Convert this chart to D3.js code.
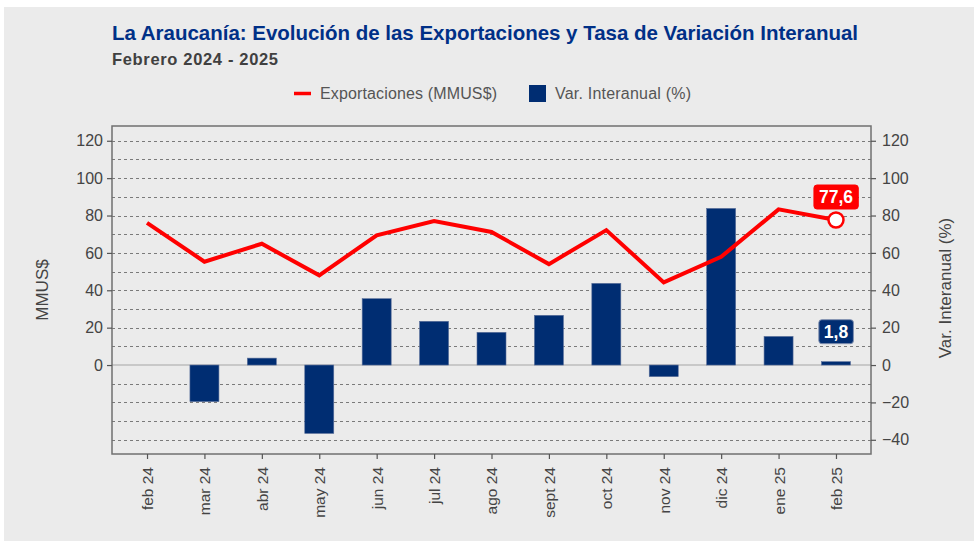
<!DOCTYPE html>
<html>
<head>
<meta charset="utf-8">
<script src="https://cdn.jsdelivr.net/npm/d3@7"></script>
<style>
  html, body { margin: 0; padding: 0; background: #ffffff; }
  svg { display: block; font-family: "Liberation Sans", Arial, sans-serif; }
</style>
</head>
<body>
<svg id="chart" width="974" height="541"></svg>
<script>
const categories = ["feb 24","mar 24","abr 24","may 24","jun 24","jul 24","ago 24","sept 24","oct 24","nov 24","dic 24","ene 25","feb 25"];
const exportaciones = [76.1, 55.3, 64.9, 48.0, 69.4, 77.0, 71.2, 54.0, 72.2, 44.2, 57.9, 83.3, 77.6];
const varInteranual = [0, -19.6, 3.7, -36.6, 35.5, 23.4, 17.5, 26.6, 43.7, -6.2, 83.8, 15.3, 1.8];
const leftTicks = [0, 20, 40, 60, 80, 100, 120];
const rightTicks = [-40, -20, 0, 20, 40, 60, 80, 100, 120];
const gridValues = [-40, -30, -20, -10, 10, 20, 30, 40, 50, 60, 70, 80, 90, 100, 110, 120];
const title = "La Araucanía: Evolución de las Exportaciones y Tasa de Variación Interanual";
const subtitle = "Febrero 2024 - 2025";
const legendLabels = ["Exportaciones (MMUS$)", "Var. Interanual (%)"];
const fmt = v => d3.format(".1f")(v).replace(".", ",");

const svg = d3.select("#chart");
const W = 974, H = 541;
const plot = {left: 112, right: 871, top: 126, bottom: 454};

svg.append("rect").attr("x", 4).attr("y", 7).attr("width", W - 4).attr("height", H - 7).attr("fill", "#ebebeb");

const x = d3.scalePoint().domain(categories).range([plot.left, plot.right]).padding(0.61);
const yL = d3.scaleLinear().domain([-47.6, 127.9]).range([plot.bottom, plot.top]);
const yR = d3.scaleLinear().domain([-47.6, 127.9]).range([plot.bottom, plot.top]);

// Title
svg.append("text").attr("x", 112).attr("y", 40).attr("fill", "#003087")
  .attr("font-size", 20.5).attr("font-weight", "bold").attr("textLength", 746).text(title);
svg.append("text").attr("x", 112).attr("y", 65).attr("fill", "#404040")
  .attr("font-size", 16.5).attr("font-weight", "bold").attr("textLength", 166).text(subtitle);

// Legend
const lg = svg.append("g");
lg.append("line").attr("x1", 294).attr("x2", 311).attr("y1", 93.5).attr("y2", 93.5)
  .attr("stroke", "#ff0000").attr("stroke-width", 3.5);
lg.append("text").attr("x", 320).attr("y", 99).attr("font-size", 16).attr("fill", "#555")
  .attr("textLength", 177).text(legendLabels[0]);
lg.append("rect").attr("x", 529).attr("y", 85).attr("width", 17).attr("height", 17).attr("fill", "#002d72");
lg.append("text").attr("x", 555).attr("y", 99).attr("font-size", 16).attr("fill", "#555")
  .attr("textLength", 136).text(legendLabels[1]);

// Gridlines
svg.append("g").selectAll("line").data(gridValues).join("line")
  .attr("x1", plot.left).attr("x2", plot.right)
  .attr("y1", d => Math.round(yL(d)) + 0.5).attr("y2", d => Math.round(yL(d)) + 0.5)
  .attr("stroke", "#7a7a7a").attr("stroke-width", 1).attr("stroke-dasharray", "3,3");

// zero line
svg.append("line").attr("x1", plot.left).attr("x2", plot.right)
  .attr("y1", yL(0)).attr("y2", yL(0)).attr("stroke", "#bdbdbd").attr("stroke-width", 1.5);

// Bars
const bw = 29;
svg.append("g").selectAll("rect").data(varInteranual).join("rect")
  .attr("x", (d, i) => x(categories[i]) - bw / 2)
  .attr("width", bw)
  .attr("y", d => yR(Math.max(0, d)))
  .attr("height", d => Math.abs(yR(d) - yR(0)))
  .attr("fill", "#002d72")
  .attr("stroke", d => d === 0 ? "none" : "#5a6f9a").attr("stroke-width", 0.6);

// Line
const line = d3.line().x((d, i) => x(categories[i])).y(d => yL(d));
svg.append("path").datum(exportaciones).attr("d", line)
  .attr("fill", "none").attr("stroke", "#ff0000").attr("stroke-width", 4).attr("stroke-linejoin", "miter");

// Plot border
svg.append("rect").attr("x", plot.left).attr("y", plot.top)
  .attr("width", plot.right - plot.left).attr("height", plot.bottom - plot.top)
  .attr("fill", "none").attr("stroke", "#707070").attr("stroke-width", 1.5);

// Axes
const axL = svg.append("g").attr("transform", `translate(${plot.left},0)`)
  .call(d3.axisLeft(yL).tickValues(leftTicks).tickSize(5).tickPadding(4).tickFormat(d3.format("d")));
const axR = svg.append("g").attr("transform", `translate(${plot.right},0)`)
  .call(d3.axisRight(yR).tickValues(rightTicks).tickSize(5).tickPadding(6).tickFormat(d3.format("d")));
const axB = svg.append("g").attr("transform", `translate(0,${plot.bottom})`)
  .call(d3.axisBottom(x).tickSize(5).tickPadding(8));
[axL, axR, axB].forEach(a => {
  a.select(".domain").remove();
  a.selectAll(".tick line").attr("stroke", "#555").attr("stroke-width", 1.2);
  a.selectAll("text").attr("fill", "#444").attr("font-family", "Liberation Sans, Arial, sans-serif");
});
axL.selectAll("text").attr("font-size", 16);
axR.selectAll("text").attr("font-size", 16);
axB.selectAll("text").attr("font-size", 15.5)
  .attr("transform", "rotate(-90)").attr("text-anchor", "end")
  .attr("x", -13).attr("y", 0).attr("dy", "0.35em");

// Axis titles
svg.append("text").attr("transform", `translate(48,290) rotate(-90)`).attr("text-anchor", "middle")
  .attr("font-size", 17).attr("fill", "#444").text("MMUS$");
svg.append("text").attr("transform", `translate(951,288) rotate(-90)`).attr("text-anchor", "middle")
  .attr("font-size", 17).attr("fill", "#444").text("Var. Interanual (%)");

// Last point marker and labels
const li = categories.length - 1;
const px = x(categories[li]), py = yL(exportaciones[li]);
svg.append("circle").attr("cx", px).attr("cy", py).attr("r", 7.5)
  .attr("fill", "#fff").attr("stroke", "#ff0000").attr("stroke-width", 2.5);

function labelBox(cx, cy, text, fill, stroke) {
  const g = svg.append("g");
  const t = g.append("text").attr("x", cx).attr("y", cy).attr("text-anchor", "middle")
    .attr("dy", "0.36em").attr("font-size", 17.5).attr("font-weight", "bold").attr("fill", "#fff").text(text);
  const bb = t.node().getBBox();
  g.insert("rect", "text").attr("x", bb.x - 5).attr("y", cy - 12).attr("width", bb.width + 10).attr("height", 24)
    .attr("rx", 3).attr("fill", fill).attr("stroke", stroke).attr("stroke-width", 1);
}
labelBox(px, py - 23, fmt(exportaciones[li]), "#ff0000", "#ff0000");
labelBox(px, yR(varInteranual[li]) - 30, fmt(varInteranual[li]), "#002d72", "#8090b0");
</script>
</body>
</html>
